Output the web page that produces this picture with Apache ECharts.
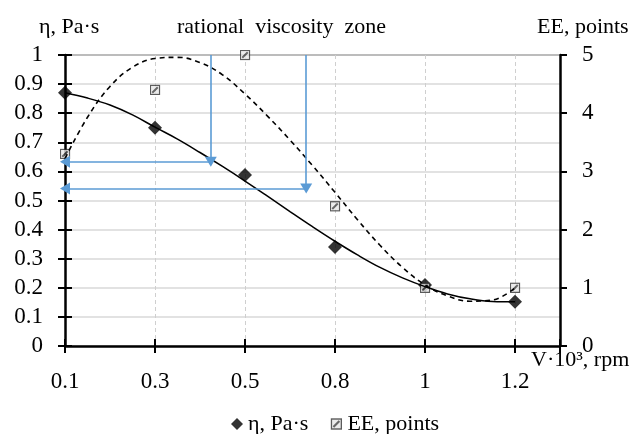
<!DOCTYPE html>
<html>
<head>
<meta charset="utf-8">
<script src="https://cdn.jsdelivr.net/npm/echarts@6/dist/echarts.min.js"></script>
<style>
  html, body { margin: 0; padding: 0; background: #fff; }
  #chart { width: 633px; height: 434px; }
</style>
</head>
<body>
<div id="chart"></div>
<script>
// speed categories (V·10³, rpm), placed at equal steps 0..5
const speeds = ['0.1', '0.3', '0.5', '0.8', '1', '1.2'];
// measured values
const viscosity = [0.87, 0.75, 0.588, 0.34, 0.21, 0.152];
const expertScore = [3.3, 4.4, 5.0, 2.4, 1.0, 1.0];
// trend curves: [category position, value]
const viscosityTrend = [
  [0, 0.870], [0.25, 0.852], [0.5, 0.828], [0.75, 0.794], [1.0, 0.752], [1.25, 0.711],
  [1.5, 0.665], [1.75, 0.617], [2.0, 0.567], [2.25, 0.515], [2.5, 0.462], [2.75, 0.41],
  [3.0, 0.36], [3.25, 0.313], [3.5, 0.27], [3.75, 0.234], [4.0, 0.204], [4.25, 0.179],
  [4.5, 0.162], [4.75, 0.153], [5.0, 0.152]
];
const scoreTrend = [
  [0, 3.22], [0.25, 3.93], [0.5, 4.46], [0.75, 4.79], [1.0, 4.94], [1.25, 4.96],
  [1.5, 4.87], [1.75, 4.66], [2.0, 4.33], [2.25, 3.95], [2.5, 3.54], [2.75, 3.10],
  [3.0, 2.64], [3.25, 2.17], [3.5, 1.73], [3.75, 1.35], [4.0, 1.05], [4.25, 0.86],
  [4.5, 0.77], [4.75, 0.79], [5.0, 1.0]
];
// rational viscosity zone arrows: x position, viscosity reached
const arrowX = [1.62, 2.68];
const arrowY = [0.633, 0.541];

const FONT = "'Liberation Serif', 'Times New Roman', serif";
const chart = echarts.init(document.getElementById('chart'));

const squareIcon = 'image://data:image/svg+xml;utf8,' + encodeURIComponent(
  '<svg xmlns="http://www.w3.org/2000/svg" width="12" height="12">' +
  '<rect x="1" y="1" width="10" height="10" fill="#e8e8e8" stroke="#333" stroke-width="1.4"/>' +
  '<path d="M3 9 L9 3" stroke="#444" stroke-width="2.2"/></svg>');

const arrowLines = [];
arrowX.forEach(function (x, i) {
  arrowLines.push([{ coord: [x, 1] }, { coord: [x, arrowY[i]] }]);
  arrowLines.push([{ coord: [x, arrowY[i]] }, { coord: [0, arrowY[i]] }]);
});

const hGrid = [];
for (let i = 0; i < 10; i++) hGrid.push('#d9d9d9');
hGrid.push('#a6a6a6');

const label = { color: '#000', fontFamily: FONT, fontSize: 23 };
const titleStyle = { fontFamily: FONT, fontSize: 22, fontWeight: 'normal', color: '#000' };

chart.setOption({
  animation: false,
  backgroundColor: '#fff',
  textStyle: { fontFamily: FONT },
  grid: { left: 65, right: 73, top: 55, bottom: 88 },
  title: [
    { text: 'η, Pa·s', left: 34, top: 11, textStyle: titleStyle },
    { text: 'rational  viscosity  zone', left: 172, top: 11, textStyle: titleStyle },
    { text: 'EE, points', left: 532, top: 11, textStyle: titleStyle },
    { text: 'V·10³, rpm', left: 526, top: 344, textStyle: titleStyle }
  ],
  legend: {
    left: 226, top: 408,
    itemWidth: 12, itemHeight: 12, itemGap: 22,
    textStyle: { color: '#000', fontFamily: FONT, fontSize: 22 },
    data: [
      { name: 'η, Pa·s', icon: 'diamond' },
      { name: 'EE, points', icon: squareIcon }
    ]
  },
  xAxis: [
    {
      type: 'value', min: 0, max: 5.5, interval: 1, position: 'bottom',
      axisLine: { onZero: false, lineStyle: { color: '#000', width: 2.5 } },
      axisTick: { length: 7, lineStyle: { color: '#000', width: 2 } },
      axisLabel: Object.assign({ margin: 24, formatter: function (v) { return speeds[v] || ''; } }, label),
      splitLine: { show: true, lineStyle: { color: '#cfcfcf', type: [4, 3], width: 1 } }
    },
    {
      type: 'value', min: 0, max: 5.5, interval: 1, position: 'bottom',
      axisLine: { show: false },
      axisTick: { inside: true, length: 7, lineStyle: { color: '#000', width: 2 } },
      axisLabel: { show: false },
      splitLine: { show: false }
    }
  ],
  yAxis: [
    {
      type: 'value', min: 0, max: 1, interval: 0.1, position: 'left',
      axisLine: { show: true, onZero: false, lineStyle: { color: '#000', width: 2.5 } },
      axisTick: { show: true, length: 7, lineStyle: { color: '#000', width: 2 } },
      axisLabel: Object.assign({ margin: 22 }, label),
      splitLine: { show: true, lineStyle: { color: hGrid, width: 1.5 } }
    },
    {
      type: 'value', min: 0, max: 5, interval: 1, position: 'right',
      axisLine: { show: true, onZero: false, lineStyle: { color: '#000', width: 2.5 } },
      axisTick: { show: true, length: 7, lineStyle: { color: '#000', width: 2 } },
      axisLabel: Object.assign({ margin: 22 }, label),
      splitLine: { show: false }
    },
    {
      type: 'value', min: 0, max: 1, interval: 0.1, position: 'left',
      axisLine: { show: false },
      axisTick: { show: true, inside: true, length: 7, lineStyle: { color: '#000', width: 2 } },
      axisLabel: { show: false },
      splitLine: { show: false }
    },
    {
      type: 'value', min: 0, max: 5, interval: 1, position: 'right',
      axisLine: { show: false },
      axisTick: { show: true, inside: true, length: 7, lineStyle: { color: '#000', width: 2 } },
      axisLabel: { show: false },
      splitLine: { show: false }
    }
  ],
  series: [
    {
      name: 'arrows', type: 'line', data: [], xAxisIndex: 0, yAxisIndex: 0,
      markLine: {
        silent: true, animation: false,
        symbol: ['none', 'triangle'], symbolSize: [12, 10],
        label: { show: false },
        lineStyle: { color: '#5b9bd5', width: 1.6, type: 'solid' },
        emphasis: { disabled: true },
        data: arrowLines
      }
    },
    {
      name: 'ηtrend', type: 'line', smooth: 0.4, showSymbol: false, silent: true,
      yAxisIndex: 0, data: viscosityTrend,
      lineStyle: { color: '#000', width: 1.5 }
    },
    {
      name: 'EEtrend', type: 'line', smooth: 0.4, showSymbol: false, silent: true,
      yAxisIndex: 1, data: scoreTrend,
      lineStyle: { color: '#000', width: 1.6, type: [5, 4] }
    },
    {
      name: 'η, Pa·s', type: 'scatter', yAxisIndex: 0,
      symbol: 'diamond', symbolSize: 14,
      itemStyle: { color: '#000' },
      data: viscosity.map(function (v, i) { return [i, v]; })
    },
    {
      name: 'EE, points', type: 'scatter', yAxisIndex: 1,
      symbol: squareIcon, symbolSize: 11,
      data: expertScore.map(function (v, i) { return [i, v]; })
    }
  ]
});
</script>
</body>
</html>
